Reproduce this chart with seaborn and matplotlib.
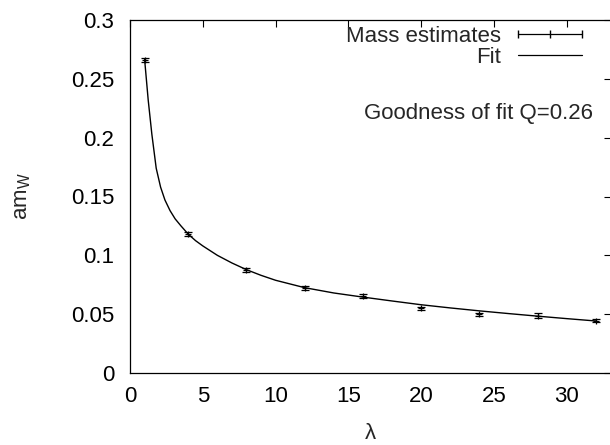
import numpy as np
import pandas as pd
import matplotlib
matplotlib.use('Agg')
import matplotlib.pyplot as plt
from matplotlib.lines import Line2D
import seaborn as sns

# mass estimates
lam = [1, 4, 8, 12, 16, 20, 24, 28, 32]
am_w = [0.266, 0.118, 0.0875, 0.0722, 0.0654, 0.0550, 0.0499, 0.0488, 0.0445]
am_err = [0.0015, 0.0015, 0.0015, 0.0015, 0.0015, 0.0015, 0.0015, 0.0018, 0.0015]

# fit curve
fit_lam = [1, 1.25, 1.5, 1.8, 2.1, 2.4, 2.75, 3.1, 3.5, 4, 4.5, 5, 6, 7, 8, 9, 10, 12,
           14, 16, 18, 20, 22, 24, 26, 28, 30, 32]
fit_am = [0.267, 0.232, 0.203, 0.174, 0.158, 0.147, 0.138, 0.131, 0.125, 0.118, 0.1125,
          0.108, 0.100, 0.0935, 0.0878, 0.0830, 0.0788, 0.0725, 0.0680, 0.0645, 0.0612,
          0.0580, 0.0553, 0.0528, 0.0505, 0.0483, 0.0462, 0.0442]

sns.set_theme(style='white')
plt.rcParams['font.family'] = ['Liberation Sans', 'DejaVu Sans']
plt.rcParams['mathtext.fontset'] = 'custom'
plt.rcParams['mathtext.rm'] = 'Liberation Sans'
plt.rcParams['mathtext.it'] = 'Liberation Sans'

fs = 16

fig = plt.figure(figsize=(6.1, 4.45), dpi=100)
ax = fig.add_axes([130 / 610, 1 - 373 / 445, 480.5 / 610, 353 / 445])

df_fit = pd.DataFrame({'lam': fit_lam, 'am': fit_am})
sns.lineplot(data=df_fit, x='lam', y='am', ax=ax, color='black', linewidth=1.0)
ax.errorbar(lam, am_w, yerr=am_err, fmt='+', color='black', markersize=5,
            elinewidth=0.9, capsize=3, capthick=0.9, markeredgewidth=0.9)

ax.set_xlim(0, 33)
ax.set_ylim(0, 0.3)
ax.set_xticks([0, 5, 10, 15, 20, 25, 30])
ax.set_yticks([0, 0.05, 0.1, 0.15, 0.2, 0.25, 0.3])
ax.set_yticklabels(['0', '0.05', '0.1', '0.15', '0.2', '0.25', '0.3'])
ax.tick_params(direction='in', length=5, width=0.8, top=True, right=True,
               labelsize=fs, colors='black')
ax.tick_params(axis='x', pad=9)
ax.tick_params(axis='y', pad=11.5)
for s in ax.spines.values():
    s.set_color('black')
    s.set_linewidth(0.9)

ax.set_xlabel('λ', fontsize=fs, labelpad=12)
ax.set_ylabel(r'am$_\mathrm{W}$', fontsize=fs, labelpad=27)

handles = [Line2D([], [], color='black', lw=0.9, marker='|', markersize=6),
           Line2D([], [], color='black', lw=0.9)]
ax.legend(handles, ['Mass estimates', 'Fit'], loc='upper right', frameon=False,
          markerfirst=False, numpoints=3, fontsize=fs, handlelength=3.5,
          handletextpad=0.46, labelspacing=0.0, borderpad=0,
          bbox_to_anchor=(0.978, 1.015))

ax.text(0.9636, 0.7365, 'Goodness of fit Q=0.26', transform=ax.transAxes,
        ha='right', va='center', fontsize=fs)

fig.savefig('out.png', dpi=100)
